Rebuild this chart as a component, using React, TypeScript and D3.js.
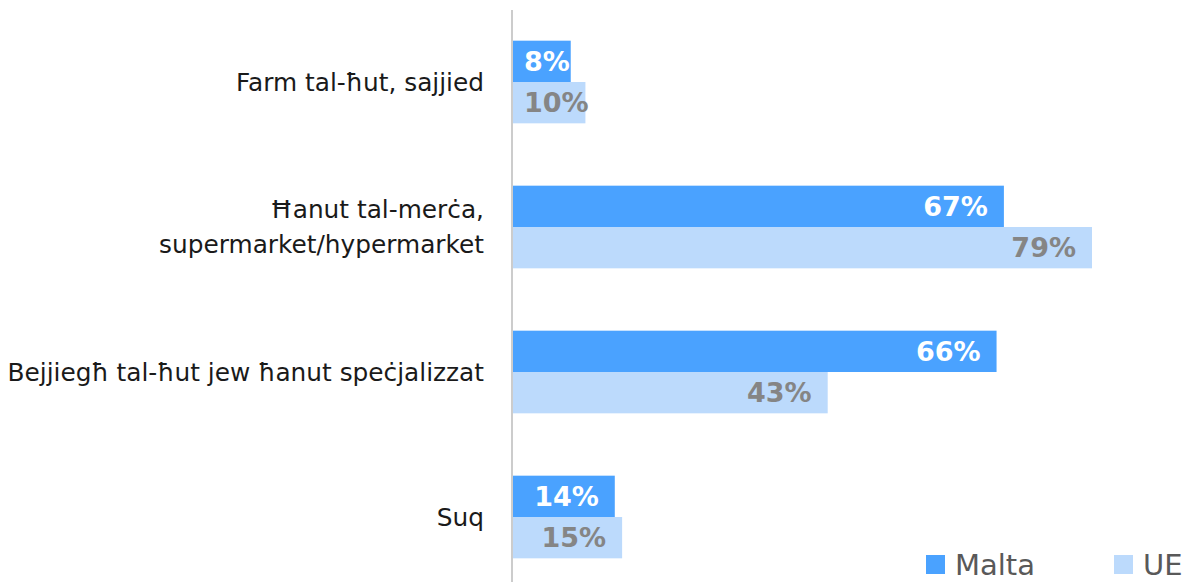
import { useRef, useEffect } from 'react';
import * as d3 from 'd3';

const categories = [
  'Farm tal-ħut, sajjied',
  'Ħanut tal-merċa,\nsupermarket/hypermarket',
  'Bejjiegħ tal-ħut jew ħanut speċjalizzat',
  'Suq',
];
const maltaValues = [8, 67, 66, 14];
const ueValues = [10, 79, 43, 15];
const seriesNames = ['Malta', 'UE'];

const COLORS = ['#4aa2ff', '#bcdafc'];
const LABEL_COLORS = ['#ffffff', '#858585'];
const FONT = "'DejaVu Sans', 'Noto Sans', sans-serif";

export default function App() {
  const svgRef = useRef<SVGSVGElement>(null);

  useEffect(() => {
    const width = 1187;
    const height = 582;
    const axisX = 512;

    const svg = d3.select(svgRef.current);
    svg.selectAll('*').remove();

    const y = d3.scaleBand<string>()
      .domain(categories)
      .range([9.5, 589.5])
      .paddingInner(0.43)
      .paddingOuter(0.215);

    const x = d3.scaleLinear()
      .domain([0, 79])
      .range([axisX, 1092]);

    const sub = d3.scaleBand<string>()
      .domain(seriesNames)
      .range([0, y.bandwidth()]);

    const data = categories.map((c, i) => ({ cat: c, vals: [maltaValues[i], ueValues[i]] }));

    const groups = svg.append('g')
      .selectAll('g')
      .data(data)
      .enter()
      .append('g')
      .attr('transform', d => `translate(0,${y(d.cat)})`);

    seriesNames.forEach((s, si) => {
      groups.append('rect')
        .attr('x', x(0))
        .attr('y', sub(s)!)
        .attr('width', d => x(d.vals[si]) - x(0))
        .attr('height', sub.bandwidth())
        .attr('fill', COLORS[si]);

      groups.append('text')
        .attr('y', sub(s)! + sub.bandwidth() / 2)
        .attr('dy', '0.36em')
        .attr('text-anchor', 'end')
        .attr('fill', LABEL_COLORS[si])
        .style('font-family', FONT)
        .style('font-size', '27px')
        .style('font-weight', '700')
        .text(d => `${d.vals[si]}%`)
        .each(function (d) {
          const w = (this as SVGTextElement).getComputedTextLength();
          const end = Math.max(x(d.vals[si]) - 16, x(0) + 12 + w);
          d3.select(this).attr('x', end);
        });
    });

    // category labels
    svg.append('g')
      .selectAll('text')
      .data(categories)
      .enter()
      .append('text')
      .attr('x', 484)
      .attr('y', d => y(d)! + y.bandwidth() / 2)
      .attr('text-anchor', 'end')
      .attr('fill', '#1a1a1a')
      .style('font-family', FONT)
      .style('font-size', '24.8px')
      .each(function (d) {
        const lines = d.split('\n');
        const t = d3.select(this);
        lines.forEach((line, i) => {
          t.append('tspan')
            .attr('x', 484)
            .attr('dy', i === 0 ? `${0.35 - (lines.length - 1) * 0.71}em` : '1.42em')
            .text(line);
        });
      });

    // axis line
    svg.append('line')
      .attr('x1', axisX)
      .attr('x2', axisX)
      .attr('y1', 10)
      .attr('y2', height)
      .attr('stroke', '#cccccc')
      .attr('stroke-width', 2);

    // legend
    const legendPos = [926, 1114];
    const legend = svg.append('g');
    seriesNames.forEach((s, i) => {
      legend.append('rect')
        .attr('x', legendPos[i])
        .attr('y', 555)
        .attr('width', 19)
        .attr('height', 19)
        .attr('fill', COLORS[i]);
      legend.append('text')
        .attr('x', legendPos[i] + 29)
        .attr('y', 575)
        .attr('fill', '#595959')
        .style('font-family', FONT)
        .style('font-size', '29px')
        .text(s);
    });

    svg.attr('viewBox', `0 0 ${width} ${height}`);
  }, []);

  return (
    <svg
      ref={svgRef}
      width={1187}
      height={582}
      style={{ position: 'absolute', left: 0, top: 0, background: '#ffffff' }}
    />
  );
}
